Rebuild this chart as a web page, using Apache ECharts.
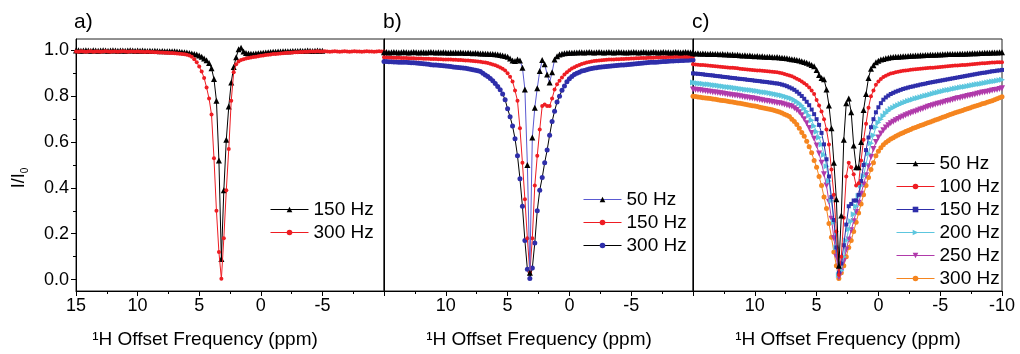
<!DOCTYPE html>
<html>
<head>
<meta charset="utf-8">
<script src="https://cdn.jsdelivr.net/npm/echarts/dist/echarts.min.js"></script>
<style>
html,body{margin:0;padding:0;background:#fff;}
#chart{width:1020px;height:354px;}
</style>
</head>
<body>
<div id="chart"></div>
<script>
// ---- offset frequency grid (ppm) ----
const ppm = [
15,14.8,14.6,14.4,14.2,14,13.8,13.6,13.4,13.2,
13,12.8,12.6,12.4,12.2,12,11.8,11.6,11.4,11.2,
11,10.8,10.6,10.4,10.2,10,9.8,9.6,9.4,9.2,
9,8.8,8.6,8.4,8.2,8,7.8,7.6,7.4,7.2,
7,6.8,6.6,6.4,6.2,6,5.8,5.6,5.4,5.2,
5,4.8,4.6,4.4,4.2,4,3.8,3.6,3.4,3.2,
3,2.8,2.6,2.4,2.2,2,1.8,1.6,1.4,1.2,
1,0.8,0.6,0.4,0.2,0,-0.2,-0.4,-0.6,-0.8,
-1,-1.2,-1.4,-1.6,-1.8,-2,-2.2,-2.4,-2.6,-2.8,
-3,-3.2,-3.4,-3.6,-3.8,-4,-4.2,-4.4,-4.6,-4.8,
-5,-5.2,-5.4,-5.6,-5.8,-6,-6.2,-6.4,-6.6,-6.8,
-7,-7.2,-7.4,-7.6,-7.8,-8,-8.2,-8.4,-8.6,-8.8,
-9,-9.2,-9.4,-9.6,-9.8,-10];

const yTicks = [0,0.2,0.4,0.6,0.8,1.0];
const yMinorTicks = [0.1,0.3,0.5,0.7,0.9];

// ---- panel a ----
const a150 = [
1.0,1.001,0.999,1.0,1.001,1.0,0.999,1.001,1.0,0.999,
1.0,1.001,1.0,0.999,1.0,1.001,1.0,0.999,1.0,1.0,
0.999,1.0,1.001,1.0,0.999,1.0,0.999,1.0,0.999,0.998,
0.999,0.998,0.999,0.998,0.997,0.998,0.997,0.996,0.997,0.996,
0.996,0.995,0.994,0.993,0.992,0.991,0.989,0.987,0.985,0.982,
0.978,0.972,0.965,0.957,0.945,0.922,0.875,0.78,0.52,0.09,
0.39,0.61,0.755,0.86,0.928,0.97,1.005,1.012,0.995,0.989,
0.987,0.986,0.986,0.987,0.988,0.989,0.99,0.991,0.992,0.993,
0.994,0.994,0.995,0.995,0.996,0.996,0.997,0.997,0.998,0.998,
0.998,0.999,0.998,0.999,1.0,0.999,0.998,0.999,1.0,0.999,
0.999];
const a300 = [
0.995,0.994,0.996,0.995,0.994,0.995,0.996,0.994,0.995,0.995,
0.994,0.995,0.996,0.995,0.994,0.995,0.995,0.994,0.995,0.996,
0.995,0.994,0.995,0.995,0.994,0.995,0.994,0.994,0.993,0.994,
0.993,0.993,0.992,0.992,0.991,0.991,0.99,0.99,0.989,0.989,
0.988,0.987,0.986,0.985,0.983,0.981,0.978,0.972,0.962,0.948,
0.93,0.908,0.88,0.838,0.79,0.72,0.53,0.3,0.12,0.003,
0.18,0.39,0.57,0.78,0.905,0.94,0.952,0.958,0.962,0.965,
0.967,0.969,0.971,0.973,0.975,0.977,0.978,0.98,0.981,0.982,
0.984,0.985,0.986,0.987,0.988,0.989,0.99,0.99,0.991,0.992,
0.992,0.993,0.993,0.994,0.994,0.995,0.995,0.995,0.996,0.995,
0.995,0.996,0.995,0.994,0.995,0.996,0.995,0.994,0.995,0.996,
0.995,0.994,0.995,0.996,0.995,0.995,0.994,0.995,0.996,0.995,
0.995,0.994,0.995,0.996,0.995,0.995];

// ---- panel b ----
const b50 = [
0.992,0.993,0.991,0.992,0.993,0.992,0.991,0.992,0.993,0.992,
0.991,0.992,0.993,0.992,0.991,0.992,0.992,0.991,0.992,0.993,
0.992,0.991,0.992,0.991,0.992,0.991,0.99,0.991,0.99,0.991,
0.99,0.991,0.99,0.989,0.99,0.989,0.988,0.989,0.988,0.987,
0.987,0.986,0.986,0.985,0.984,0.983,0.982,0.98,0.978,0.976,
0.972,0.965,0.956,0.954,0.96,0.956,0.925,0.83,0.5,0.03,
0.62,0.75,0.835,0.91,0.958,0.94,0.895,0.86,0.905,0.96,
0.975,0.982,0.986,0.988,0.989,0.99,0.99,0.991,0.991,0.992,
0.992,0.991,0.992,0.993,0.992,0.991,0.992,0.993,0.992,0.991,
0.992,0.993,0.992,0.991,0.992,0.993,0.992,0.992,0.991,0.992,
0.992,0.993,0.992,0.991,0.992,0.993,0.992,0.991,0.992,0.993,
0.992,0.991,0.992,0.993,0.992,0.992,0.991,0.992,0.993,0.992,
0.991,0.992,0.993,0.992,0.991,0.992];
const b150 = [
0.97,0.97,0.969,0.969,0.968,0.968,0.968,0.967,0.967,0.967,
0.966,0.966,0.966,0.965,0.965,0.965,0.964,0.964,0.964,0.963,
0.963,0.963,0.962,0.962,0.961,0.961,0.96,0.96,0.959,0.959,
0.958,0.958,0.957,0.956,0.956,0.955,0.954,0.953,0.952,0.951,
0.949,0.947,0.945,0.942,0.939,0.935,0.931,0.926,0.92,0.912,
0.9,0.885,0.865,0.825,0.78,0.66,0.51,0.35,0.18,0.03,
0.18,0.41,0.54,0.655,0.758,0.764,0.758,0.758,0.79,0.83,
0.852,0.868,0.882,0.895,0.905,0.914,0.921,0.927,0.932,0.937,
0.941,0.944,0.947,0.95,0.952,0.954,0.955,0.956,0.957,0.958,
0.959,0.96,0.96,0.961,0.962,0.962,0.963,0.963,0.964,0.964,
0.965,0.965,0.966,0.966,0.967,0.967,0.967,0.968,0.968,0.968,
0.969,0.969,0.97,0.97,0.97,0.971,0.971,0.971,0.972,0.972,
0.972,0.973,0.973,0.973,0.974,0.974];
const b300 = [
0.952,0.952,0.951,0.951,0.95,0.95,0.949,0.949,0.948,0.948,
0.947,0.946,0.946,0.945,0.944,0.943,0.942,0.941,0.94,0.938,
0.937,0.936,0.935,0.934,0.933,0.932,0.931,0.93,0.928,0.927,
0.926,0.925,0.923,0.922,0.92,0.918,0.916,0.914,0.911,0.908,
0.9,0.893,0.886,0.878,0.868,0.856,0.843,0.828,0.81,0.785,
0.745,0.711,0.67,0.615,0.54,0.44,0.32,0.17,0.045,0.005,
0.05,0.16,0.3,0.39,0.445,0.51,0.565,0.63,0.69,0.735,
0.775,0.8,0.826,0.845,0.863,0.876,0.886,0.895,0.9,0.905,
0.91,0.913,0.916,0.919,0.921,0.923,0.925,0.927,0.928,0.929,
0.93,0.931,0.932,0.933,0.934,0.935,0.936,0.937,0.938,0.939,
0.94,0.941,0.942,0.943,0.944,0.945,0.946,0.947,0.948,0.949,
0.949,0.95,0.951,0.952,0.952,0.953,0.954,0.954,0.955,0.955,
0.956,0.956,0.957,0.957,0.958,0.958];

// ---- panel c ----
const c50 = [
0.988,0.987,0.988,0.986,0.987,0.986,0.985,0.986,0.985,0.984,
0.984,0.983,0.984,0.982,0.983,0.981,0.982,0.98,0.981,0.979,
0.978,0.979,0.977,0.978,0.976,0.975,0.976,0.974,0.975,0.973,
0.972,0.973,0.971,0.97,0.971,0.969,0.968,0.967,0.966,0.964,
0.962,0.96,0.958,0.956,0.953,0.95,0.946,0.942,0.937,0.931,
0.915,0.893,0.88,0.874,0.83,0.76,0.66,0.51,0.35,0.06,
0.28,0.61,0.77,0.79,0.73,0.585,0.49,0.49,0.6,0.74,
0.81,0.88,0.92,0.935,0.948,0.955,0.96,0.963,0.966,0.968,
0.97,0.971,0.972,0.973,0.974,0.975,0.975,0.976,0.977,0.977,
0.978,0.978,0.979,0.979,0.98,0.98,0.981,0.981,0.981,0.982,
0.982,0.983,0.983,0.984,0.984,0.984,0.985,0.985,0.986,0.986,
0.986,0.987,0.987,0.988,0.988,0.988,0.989,0.989,0.99,0.99,
0.99,0.991,0.991,0.991,0.992,0.992];
const c100 = [
0.94,0.939,0.938,0.937,0.936,0.935,0.934,0.933,0.932,0.931,
0.93,0.929,0.928,0.927,0.926,0.925,0.924,0.923,0.922,0.92,
0.919,0.918,0.917,0.916,0.915,0.914,0.913,0.912,0.911,0.91,
0.909,0.908,0.907,0.906,0.905,0.903,0.9,0.897,0.894,0.891,
0.887,0.882,0.877,0.871,0.865,0.857,0.849,0.838,0.825,0.81,
0.784,0.76,0.733,0.7,0.655,0.59,0.48,0.37,0.21,0.02,
0.1,0.27,0.45,0.51,0.49,0.46,0.41,0.42,0.52,0.61,
0.68,0.75,0.8,0.825,0.85,0.865,0.875,0.884,0.89,0.895,
0.899,0.902,0.905,0.907,0.909,0.911,0.913,0.914,0.916,0.917,
0.918,0.919,0.92,0.921,0.922,0.923,0.924,0.925,0.926,0.927,
0.928,0.929,0.93,0.931,0.932,0.933,0.934,0.934,0.935,0.936,
0.937,0.938,0.939,0.94,0.941,0.942,0.943,0.944,0.944,0.945,
0.946,0.947,0.947,0.948,0.949,0.949];
const c150 = [
0.9,0.899,0.898,0.897,0.896,0.894,0.893,0.892,0.891,0.889,
0.888,0.887,0.885,0.884,0.883,0.881,0.88,0.879,0.877,0.876,
0.875,0.874,0.872,0.871,0.87,0.868,0.867,0.866,0.864,0.863,
0.862,0.86,0.859,0.857,0.856,0.854,0.851,0.848,0.844,0.839,
0.834,0.828,0.82,0.811,0.801,0.789,0.776,0.761,0.742,0.722,
0.7,0.675,0.64,0.59,0.525,0.45,0.36,0.26,0.14,0.03,
0.07,0.15,0.24,0.32,0.33,0.345,0.345,0.37,0.43,0.5,
0.565,0.62,0.665,0.7,0.73,0.752,0.77,0.785,0.795,0.803,
0.81,0.815,0.82,0.824,0.828,0.832,0.835,0.838,0.841,0.843,
0.846,0.848,0.851,0.853,0.855,0.858,0.86,0.862,0.864,0.866,
0.868,0.87,0.872,0.874,0.876,0.878,0.88,0.882,0.884,0.886,
0.888,0.89,0.892,0.894,0.896,0.898,0.9,0.902,0.903,0.905,
0.907,0.909,0.91,0.912,0.913,0.915];
const c200 = [
0.86,0.859,0.857,0.856,0.855,0.853,0.852,0.851,0.849,0.848,
0.847,0.845,0.844,0.842,0.841,0.839,0.838,0.836,0.835,0.833,
0.832,0.83,0.829,0.827,0.826,0.824,0.823,0.821,0.819,0.818,
0.816,0.814,0.812,0.81,0.808,0.806,0.803,0.8,0.797,0.794,
0.79,0.784,0.777,0.769,0.76,0.748,0.734,0.716,0.695,0.67,
0.645,0.62,0.59,0.545,0.495,0.43,0.345,0.25,0.14,0.02,
0.04,0.1,0.17,0.22,0.255,0.285,0.32,0.365,0.41,0.452,
0.505,0.55,0.595,0.63,0.665,0.685,0.7,0.714,0.726,0.736,
0.744,0.75,0.756,0.761,0.766,0.771,0.775,0.779,0.783,0.786,
0.79,0.793,0.796,0.799,0.802,0.805,0.808,0.811,0.814,0.817,
0.82,0.822,0.825,0.827,0.829,0.832,0.834,0.836,0.838,0.84,
0.842,0.844,0.846,0.848,0.85,0.852,0.854,0.856,0.858,0.86,
0.862,0.864,0.866,0.868,0.87,0.872];
const c250 = [
0.83,0.829,0.827,0.826,0.824,0.823,0.821,0.82,0.818,0.817,
0.815,0.813,0.812,0.81,0.808,0.807,0.805,0.803,0.802,0.8,
0.798,0.796,0.795,0.793,0.791,0.789,0.787,0.785,0.783,0.781,
0.779,0.777,0.775,0.773,0.771,0.769,0.767,0.764,0.761,0.758,
0.755,0.748,0.74,0.73,0.717,0.7,0.682,0.662,0.64,0.615,
0.585,0.55,0.51,0.46,0.41,0.34,0.265,0.18,0.1,0.01,
0.035,0.08,0.13,0.175,0.215,0.255,0.295,0.335,0.375,0.415,
0.455,0.495,0.535,0.57,0.6,0.62,0.638,0.652,0.664,0.674,
0.682,0.689,0.695,0.701,0.707,0.712,0.717,0.722,0.726,0.73,
0.734,0.738,0.742,0.746,0.75,0.754,0.758,0.761,0.764,0.767,
0.77,0.773,0.776,0.779,0.782,0.785,0.788,0.791,0.793,0.796,
0.798,0.801,0.803,0.806,0.808,0.811,0.813,0.816,0.818,0.82,
0.822,0.825,0.827,0.829,0.832,0.835];
const c300 = [
0.8,0.799,0.797,0.796,0.794,0.793,0.791,0.79,0.788,0.787,
0.785,0.783,0.782,0.78,0.778,0.776,0.775,0.773,0.771,0.769,
0.767,0.765,0.763,0.761,0.759,0.757,0.755,0.752,0.75,0.748,
0.746,0.743,0.741,0.738,0.735,0.731,0.727,0.722,0.717,0.712,
0.7,0.69,0.677,0.66,0.642,0.625,0.604,0.58,0.553,0.52,
0.49,0.45,0.41,0.36,0.31,0.245,0.185,0.12,0.06,0.005,
0.03,0.06,0.1,0.14,0.17,0.21,0.25,0.29,0.33,0.37,
0.41,0.445,0.48,0.51,0.54,0.56,0.575,0.588,0.598,0.606,
0.613,0.619,0.625,0.631,0.636,0.641,0.646,0.651,0.655,0.66,
0.664,0.668,0.672,0.676,0.68,0.684,0.688,0.692,0.696,0.7,
0.704,0.708,0.712,0.716,0.72,0.724,0.728,0.731,0.735,0.738,
0.742,0.746,0.749,0.753,0.756,0.76,0.763,0.767,0.77,0.774,
0.777,0.781,0.785,0.789,0.794,0.798];

const FONT = '"Liberation Sans", Arial, sans-serif';
const C = {black:'#000000', red:'#ee1d23', blue:'#2e2eaa', lblue:'#5a5ad2', cyan:'#5cc6de', mag:'#b03aaa', orange:'#f5851f'};

// series definitions: id, label, panel, values, line colour, marker colour, marker, size, rotation, z
const defs = [
  ['a150','150 Hz',0,a150,C.black,C.black,'triangle',6,0,2],
  ['a300','300 Hz',0,a300,C.red,C.red,'circle',4,0,3],
  ['b300','300 Hz',1,b300,C.black,C.blue,'circle',5,0,2],
  ['b150','150 Hz',1,b150,C.red,C.red,'circle',4,0,3],
  ['b50','50 Hz',1,b50,C.lblue,C.black,'triangle',6,0,4],
  ['c300','300 Hz',2,c300,C.orange,C.orange,'circle',5,0,2],
  ['c250','250 Hz',2,c250,C.mag,C.mag,'triangle',6,180,3],
  ['c200','200 Hz',2,c200,C.cyan,C.cyan,'triangle',6,-90,4],
  ['c150','150 Hz',2,c150,C.blue,C.blue,'rect',4,0,5],
  ['c100','100 Hz',2,c100,C.red,C.red,'circle',4,0,6],
  ['c50','50 Hz',2,c50,C.black,C.black,'triangle',6,0,7]
];
const byId = {}; defs.forEach(d=>byId[d[0]]=d);

function pairs(vals){ return vals.map((v,i)=>[ppm[i], v]); }

const series = defs.map(d=>({
  type:'line', name:d[0], xAxisIndex:d[2], yAxisIndex:d[2],
  data:pairs(d[3]), symbol:d[6], symbolSize:d[7], symbolRotate:d[8],
  lineStyle:{color:d[4], width:1}, itemStyle:{color:d[5]},
  emphasis:{disabled:true}, z:d[9], animation:false
}));

const grids = [
  {left:76, top:39, width:308, height:252},
  {left:384, top:39, width:309, height:252},
  {left:693, top:39, width:309, height:252}
].map(g=>Object.assign(g,{show:true, borderColor:'#222', borderWidth:1, containLabel:false}));

function xAx(i, showMin, showMax){
  return {
    type:'value', gridIndex:i, min:-10, max:15, interval:5, inverse:true,
    axisLine:{show:true, onZero:false, lineStyle:{color:'#000', width:1}},
    axisTick:{show:true, length:5, lineStyle:{color:'#000'}},
    minorTick:{show:true, splitNumber:2, length:3, lineStyle:{color:'#000'}},
    splitLine:{show:false},
    axisLabel:{show:true, fontSize:18, color:'#000', fontFamily:FONT, margin:6,
               showMinLabel:showMin, showMaxLabel:showMax},
  };
}
function yAx(i, show){
  return {
    type:'value', gridIndex:i, min:-0.05, max:1.05, position:'left',
    axisLine:{show:true, onZero:false, lineStyle:{color:'#000', width:1}},
    axisTick:{show:show, length:5, customValues:yTicks, lineStyle:{color:'#000'}},
    splitLine:{show:false},
    axisLabel:{show:show, customValues:yTicks, fontSize:18, color:'#000', fontFamily:FONT, margin:7,
               formatter:(v)=>v.toFixed(1)}
  };
}

function legend(ids, left, top){
  return {
    orient:'vertical', left:left, top:top, selectedMode:false,
    itemWidth:38, itemHeight:7, itemGap:4,
    data: ids.map(id=>{
      const d = byId[id];
      return {name:id, lineStyle:{color:d[4], width:1}, itemStyle:{color:d[5]}};
    }),
    formatter:(n)=>byId[n][1],
    textStyle:{fontSize:19, lineHeight:19, color:'#000', fontFamily:FONT}
  };
}

const option = {
  animation:false,
  backgroundColor:'#fff',
  grid:grids,
  xAxis:[xAx(0,false,true), xAx(1,false,false), xAx(2,true,false)],
  yAxis:[yAx(0,true), yAx(1,false), yAx(2,false),
    {type:'value', gridIndex:0, min:-0.05, max:1.05, position:'left',
     axisLine:{show:false, onZero:false}, splitLine:{show:false}, axisLabel:{show:false},
     axisTick:{show:true, length:3, customValues:yMinorTicks, lineStyle:{color:'#000'}}}],
  legend:[
    legend(['a150','a300'], 265, 195),
    legend(['b50','b150','b300'], 578, 185),
    legend(['c50','c100','c150','c200','c250','c300'], 891, 149)
  ],
  series:series,
  graphic:[
    {type:'text', left:74, top:12, style:{text:'a)', fontSize:21, fill:'#000', fontFamily:FONT}},
    {type:'text', left:383, top:12, style:{text:'b)', fontSize:21, fill:'#000', fontFamily:FONT}},
    {type:'text', left:692, top:12, style:{text:'c)', fontSize:21, fill:'#000', fontFamily:FONT}},
    {type:'text', x:19, y:178, rotation:Math.PI/2,
     style:{text:'{m|I/I}{s|0}', fontFamily:FONT, fill:'#000', align:'center', verticalAlign:'middle',
            rich:{m:{fontSize:18, lineHeight:22, fontFamily:FONT}, s:{fontSize:10, lineHeight:10, padding:[12,0,0,0], fontFamily:FONT}}}},
    {type:'text', x:205, y:340, style:{text:'\u00b9H Offset Frequency (ppm)', fontSize:19, fill:'#000', fontFamily:FONT, align:'center', verticalAlign:'middle'}},
    {type:'text', x:539, y:340, style:{text:'\u00b9H Offset Frequency (ppm)', fontSize:19, fill:'#000', fontFamily:FONT, align:'center', verticalAlign:'middle'}},
    {type:'text', x:848, y:340, style:{text:'\u00b9H Offset Frequency (ppm)', fontSize:19, fill:'#000', fontFamily:FONT, align:'center', verticalAlign:'middle'}}
  ]
};

const chart = echarts.init(document.getElementById('chart'), null, {renderer:'canvas'});
chart.setOption(option);
</script>
</body>
</html>
